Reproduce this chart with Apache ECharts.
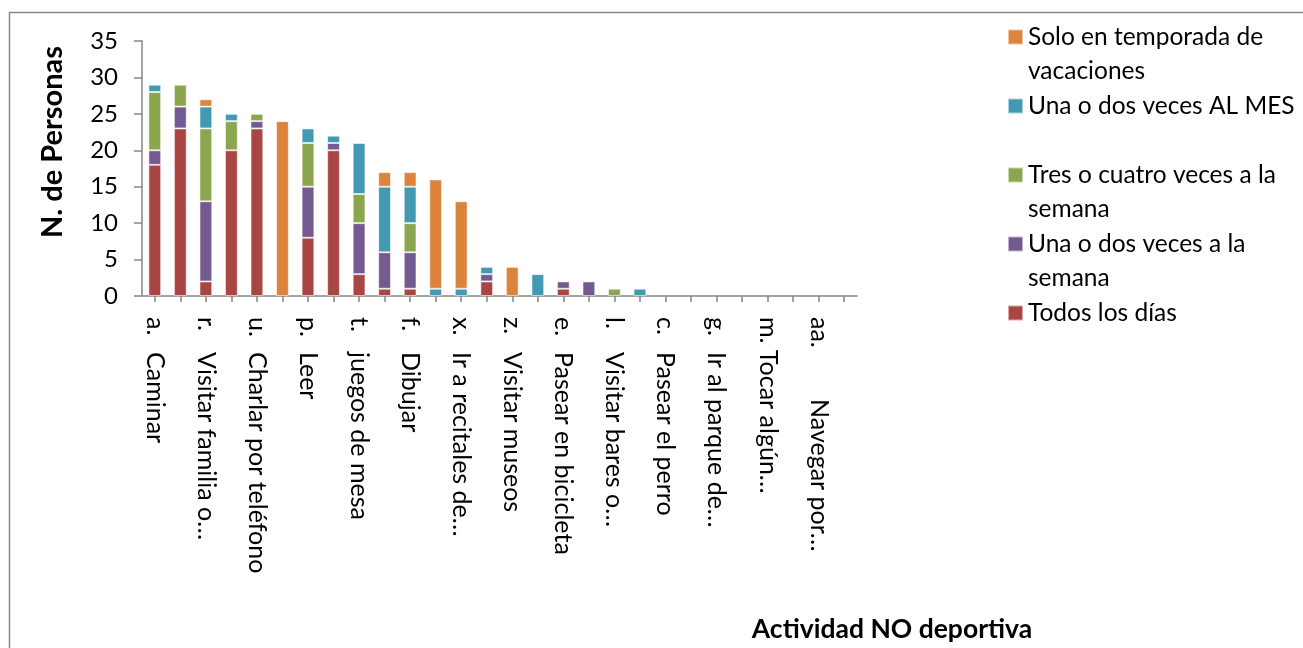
<!DOCTYPE html>
<html>
<head>
<meta charset="utf-8">
<script src="https://cdn.jsdelivr.net/npm/echarts@6/dist/echarts.min.js"></script>
<style>
  html, body { margin: 0; padding: 0; background: #fff; }
  #chart { width: 1303px; height: 648px; }
</style>
</head>
<body>
<div id="chart"></div>
<script>
// Activities (letter + short name); a tab separates the letter from the name
const categories = [
  'a.\tCaminar', 'b.', 'r.\tVisitar familia o…', 'd.', 'u.\tCharlar por teléfono', 'h.',
  'p.\tLeer', 'i.', 't.\tjuegos de mesa', 'j.', 'f.\tDibujar', 'k.',
  'x.\tIr a recitales de…', 'n.', 'z.\tVisitar museos', 'ñ.', 'e.\tPasear en bicicleta', 'o.',
  'l.\tVisitar bares o…', 'q.', 'c.\tPasear el perro', 's.', 'g.\tIr al parque de…', 'v.',
  'm. Tocar algún…', 'w.', 'aa.\t\tNavegar por…', 'y.'
];

// Number of people per frequency
const todosLosDias   = [18, 23,  2, 20, 23,  0,  8, 20,  3,  1,  1,  0,  0,  2,  0,  0,  1,  0,  0,  0,  0,  0,  0,  0,  0,  0,  0,  0];
const unaDosSemana   = [ 2,  3, 11,  0,  1,  0,  7,  1,  7,  5,  5,  0,  0,  1,  0,  0,  1,  2,  0,  0,  0,  0,  0,  0,  0,  0,  0,  0];
const tresCuatro     = [ 8,  3, 10,  4,  1,  0,  6,  0,  4,  0,  4,  0,  0,  0,  0,  0,  0,  0,  1,  0,  0,  0,  0,  0,  0,  0,  0,  0];
const unaDosMes      = [ 1,  0,  3,  1,  0,  0,  2,  1,  7,  9,  5,  1,  1,  1,  0,  3,  0,  0,  0,  1,  0,  0,  0,  0,  0,  0,  0,  0];
const soloVacaciones = [ 0,  0,  1,  0,  0, 24,  0,  0,  0,  2,  2, 15, 12,  0,  4,  0,  0,  0,  0,  0,  0,  0,  0,  0,  0,  0,  0,  0];

const yTicks = [0, 5, 10, 15, 20, 25, 30, 35];

const seriesNames = [
  'Todos los días',
  'Una o dos veces a la semana',
  'Tres o cuatro veces a la semana',
  'Una o dos veces AL MES',
  'Solo en temporada de vacaciones'
];
const seriesValues = [todosLosDias, unaDosSemana, tresCuatro, unaDosMes, soloVacaciones];
const colors = ['#A94543', '#735A90', '#8CA64F', '#4299B2', '#DC843C'];

// Legend text, wrapped as in the chart
const legendText = {
  'Solo en temporada de vacaciones': ['Solo en temporada de', 'vacaciones'],
  'Una o dos veces AL MES': ['Una o dos veces AL MES', ''],
  'Tres o cuatro veces a la semana': ['Tres o cuatro veces a la', 'semana'],
  'Una o dos veces a la semana': ['Una o dos veces a la', 'semana'],
  'Todos los días': ['Todos los días']
};

const FONT = 'Lato, "Open Sans", sans-serif';
const LINE_H = 34.5;
const legendOrder = [
  'Solo en temporada de vacaciones',
  'Una o dos veces AL MES',
  'Tres o cuatro veces a la semana',
  'Una o dos veces a la semana',
  'Todos los días'
];

// Legend entries laid out on a fixed line grid. Blank lines are added above the
// text so the (vertically centred) icon lines up with the first text line.
let row = 0;
const legends = legendOrder.map(name => {
  const lines = legendText[name];
  const n = lines.length;
  const firstCenter = 37 + row * LINE_H;
  row += n;
  const padded = new Array(n - 1).fill('').concat(lines);
  return {
    data: [name],
    orient: 'vertical',
    left: 1007,
    top: firstCenter - (2 * n - 1) * LINE_H / 2,
    padding: 0,
    itemWidth: 15,
    itemHeight: 15,
    selectedMode: false,
    icon: 'rect',
    formatter: () => padded.join('\n'),
    textStyle: {
      fontFamily: FONT,
      fontSize: 24.5,
      color: '#000',
      lineHeight: LINE_H
    }
  };
});

function formatCategory(value) {
  const parts = value.split('\t');
  if (parts.length === 1) return value;
  const name = parts[parts.length - 1];
  const style = parts.length > 2 ? 'p2' : 'p1';
  return '{' + style + '|' + parts[0] + '}{n|' + name + '}';
}

const chart = echarts.init(document.getElementById('chart'), null, { renderer: 'canvas' });

chart.setOption({
  animation: false,
  backgroundColor: '#fff',
  grid: { left: 142, top: 41, right: 446, bottom: 352, containLabel: false },
  legend: legends,
  xAxis: {
    type: 'category',
    data: categories,
    axisLine: { lineStyle: { color: '#868686', width: 1.5 } },
    axisTick: { show: true, alignWithLabel: true, interval: 0, length: 6, lineStyle: { color: '#868686', width: 1.5 } },
    axisLabel: {
      interval: 1,
      rotate: -90,
      margin: 21,
      color: '#000',
      fontFamily: FONT,
      fontSize: 25,
      formatter: formatCategory,
      rich: {
        p1: { width: 35, fontFamily: FONT, fontSize: 25, color: '#000' },
        p2: { width: 82, fontFamily: FONT, fontSize: 25, color: '#000' },
        n: { fontFamily: FONT, fontSize: 25, color: '#000' }
      }
    }
  },
  yAxis: {
    type: 'value',
    min: yTicks[0],
    max: yTicks[yTicks.length - 1],
    interval: yTicks[1] - yTicks[0],
    splitLine: { show: false },
    axisLine: { show: true, lineStyle: { color: '#868686', width: 1.5 } },
    axisTick: { show: true, length: 8, lineStyle: { color: '#868686', width: 1.5 } },
    axisLabel: { margin: 24, color: '#000', fontFamily: FONT, fontSize: 24 }
  },
  series: seriesNames.map((name, i) => ({
    name,
    type: 'bar',
    stack: 'total',
    barWidth: '50%',
    itemStyle: { color: colors[i], borderColor: 'rgba(255,255,255,0.55)', borderWidth: 1 },
    data: seriesValues[i].map(v => (v === 0 ? '-' : v))
  })),
  graphic: [
    {
      type: 'rect',
      silent: true,
      shape: { x: 9.5, y: 12.5, width: 1400, height: 700 },
      style: { fill: 'none', stroke: '#8a8a8a', lineWidth: 1.5 }
    },
    {
      type: 'text',
      silent: true,
      x: 53,
      y: 142,
      rotation: Math.PI / 2,
      style: {
        text: 'N. de Personas',
        fontFamily: FONT,
        fontWeight: 'bold',
        fontSize: 29,
        fill: '#000',
        align: 'center',
        verticalAlign: 'middle'
      }
    },
    {
      type: 'text',
      silent: true,
      x: 892,
      y: 629,
      style: {
        text: 'Actividad NO deportiva',
        fontFamily: FONT,
        fontWeight: 'bold',
        fontSize: 26.5,
        fill: '#000',
        align: 'center',
        verticalAlign: 'middle'
      }
    }
  ]
});
</script>
</body>
</html>
